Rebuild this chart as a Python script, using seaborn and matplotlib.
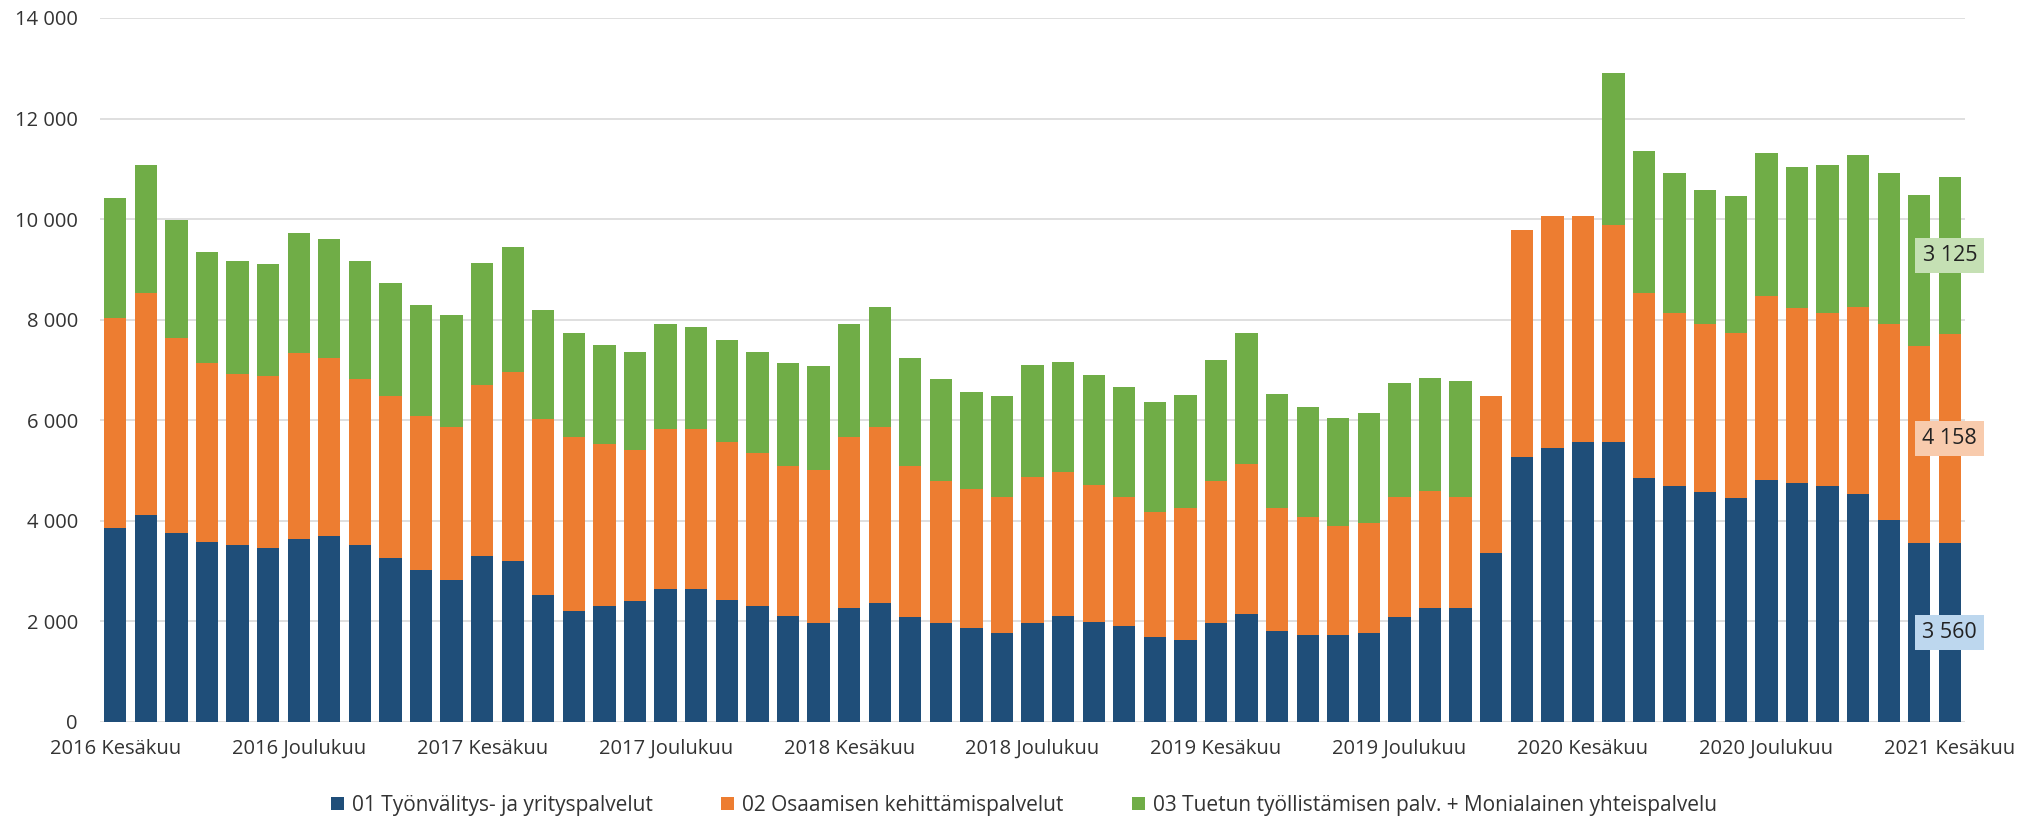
import matplotlib
matplotlib.use('Agg')
import matplotlib.pyplot as plt
from matplotlib.patches import Patch
from matplotlib.ticker import FuncFormatter
import seaborn as sns
import pandas as pd

# kuukaudet 2016 kesäkuu - 2021 kesäkuu
kuukaudet = ['Tammikuu', 'Helmikuu', 'Maaliskuu', 'Huhtikuu', 'Toukokuu', 'Kesäkuu',
             'Heinäkuu', 'Elokuu', 'Syyskuu', 'Lokakuu', 'Marraskuu', 'Joulukuu']
alku_vuosi = 2016
alku_kk = 5  # kesäkuu (0-indeksi)
n_kk = 61

sarjat = ['01 Työnvälitys- ja yrityspalvelut',
          '02 Osaamisen kehittämispalvelut',
          '03 Tuetun työllistämisen palv. + Monialainen yhteispalvelu']

tyonvalitys = [3860, 4110, 3760, 3570, 3510, 3460, 3630, 3700, 3510, 3270, 3020, 2830,
               3300, 3200, 2520, 2210, 2310, 2400, 2640, 2640, 2430, 2310, 2110, 1960,
               2270, 2370, 2080, 1960, 1860, 1770, 1960, 2110, 1990, 1900, 1700, 1630,
               1960, 2150, 1800, 1730, 1730, 1770, 2080, 2270, 2270, 3360, 5270, 5450,
               5570, 5570, 4860, 4700, 4570, 4460, 4820, 4760, 4700, 4540, 4010, 3560,
               3560]
osaaminen = [4180, 4420, 3870, 3570, 3410, 3430, 3700, 3540, 3310, 3220, 3060, 3030,
             3400, 3750, 3500, 3460, 3220, 3000, 3190, 3190, 3140, 3040, 2990, 3050,
             3400, 3500, 3020, 2830, 2770, 2710, 2920, 2860, 2730, 2580, 2470, 2630,
             2830, 2980, 2460, 2340, 2160, 2190, 2400, 2320, 2210, 3120, 4520, 4620,
             4500, 4320, 3670, 3440, 3350, 3270, 3650, 3470, 3440, 3720, 3900, 3920,
             4158]
tuettu = [2380, 2540, 2360, 2210, 2250, 2210, 2400, 2360, 2350, 2230, 2220, 2240,
          2430, 2500, 2180, 2060, 1970, 1950, 2080, 2020, 2030, 2010, 2030, 2060,
          2250, 2390, 2130, 2030, 1940, 2000, 2220, 2190, 2190, 2180, 2190, 2240,
          2410, 2600, 2270, 2190, 2150, 2180, 2270, 2260, 2300, 0, 0, 0,
          0, 3020, 2830, 2770, 2650, 2720, 2850, 2810, 2930, 3020, 3000, 2990,
          3125]

varit = ['#1F4E79', '#ED7D31', '#70AD47']
label_varit = ['#BDD7EE', '#F8CBAD', '#C5E0B4']
tekstivari = '#333333'

labels = []
for i in range(n_kk):
    k = alku_kk + i
    labels.append(f'{alku_vuosi + k // 12} {kuukaudet[k % 12]}')

df = pd.DataFrame({'kk': labels, 's1': tyonvalitys, 's2': osaaminen, 's3': tuettu})
df['kum1'] = df['s1']
df['kum2'] = df['s1'] + df['s2']
df['kum3'] = df['kum2'] + df['s3']

sns.set_theme(style='white')
plt.rcParams['font.family'] = ['Open Sans', 'DejaVu Sans']

fig = plt.figure(figsize=(20.28, 8.16), dpi=100)
ax = fig.add_axes([0.0493, 0.1152, 0.9197, 0.8628])

# pinotut pylväät: piirretään kumulatiiviset summat päällekkäin
for kum, vari in zip(['kum3', 'kum2', 'kum1'], varit[::-1]):
    sns.barplot(data=df, x='kk', y=kum, color=vari, saturation=1, width=0.73,
                linewidth=0, ax=ax, zorder=2)

ax.set_xlim(-0.5, n_kk - 0.5)
ax.set_ylim(0, 14000)
ax.set_yticks(range(0, 14001, 2000))
ax.yaxis.set_major_formatter(FuncFormatter(lambda v, _: f'{int(v):,}'.replace(',', ' ')))
ax.set_xticks(range(0, n_kk, 6))
ax.set_xticklabels(labels[::6])
ax.set_xlabel('')
ax.set_ylabel('')
ax.tick_params(axis='x', length=0, pad=12, labelsize=14.5, labelcolor=tekstivari)
ax.tick_params(axis='y', length=0, pad=16, labelsize=14.5, labelcolor=tekstivari)
ax.yaxis.grid(True, color='#d9d9d9', linewidth=1.2)
ax.set_axisbelow(True)
for s in ax.spines.values():
    s.set_visible(False)

# arvot viimeiselle pylväälle
last = n_kk - 1
alaraja = [0, df['kum1'].iloc[last], df['kum2'].iloc[last]]
arvot = [tyonvalitys[last], osaaminen[last], tuettu[last]]
for b, v, c in zip(alaraja, arvot, label_varit):
    ax.text(last, b + v / 2, f'{v:,}'.replace(',', ' '), ha='center', va='center',
            fontsize=15.5, color='#222222', zorder=5,
            bbox=dict(boxstyle='square,pad=0.33', facecolor=c, edgecolor='none'))

handles = [Patch(facecolor=c, edgecolor='none', label=l) for c, l in zip(varit, sarjat)]
fig.legend(handles=handles, loc='center', bbox_to_anchor=(0.505, 0.013), ncol=3,
           frameon=False, fontsize=15, handlelength=0.6, handleheight=0.6,
           handletextpad=0.4, columnspacing=3.3, labelcolor=tekstivari)

fig.savefig('out.png', dpi=100)
